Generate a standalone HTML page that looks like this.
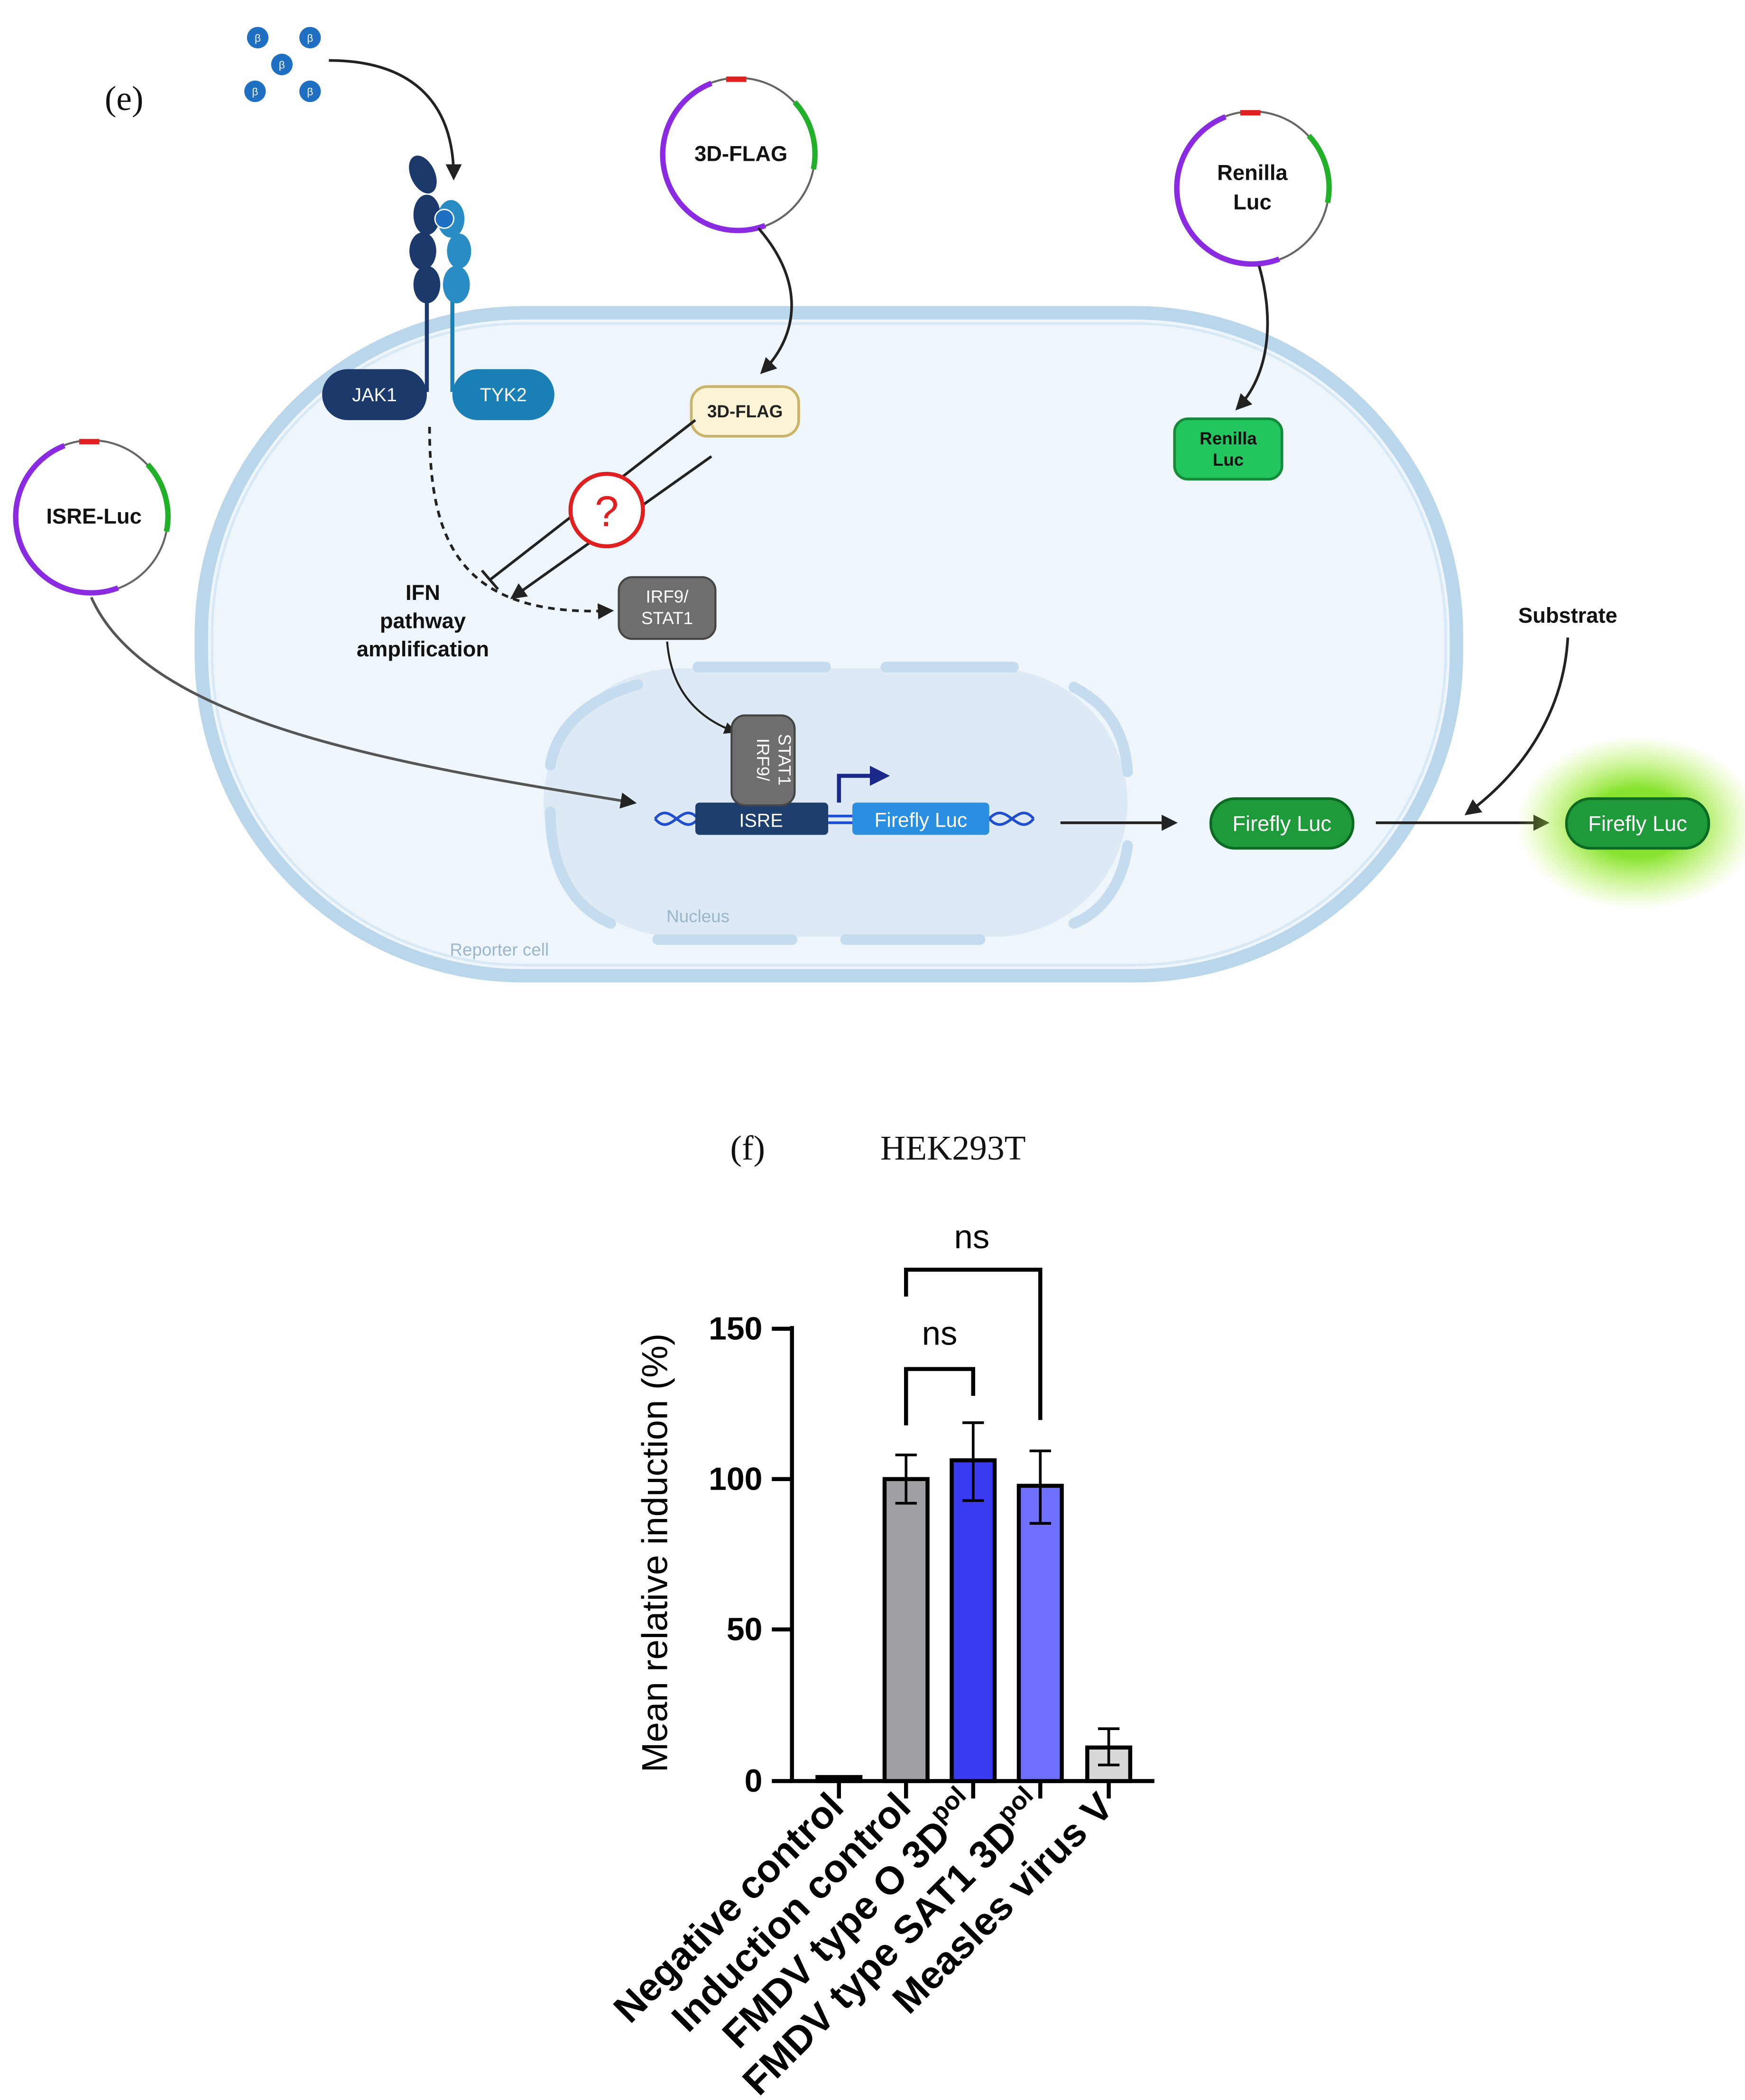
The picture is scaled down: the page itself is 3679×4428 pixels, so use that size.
<!DOCTYPE html>
<html><head><meta charset="utf-8"><style>
html,body{margin:0;padding:0;background:#fff;}
svg{display:block;}
text{font-family:"Liberation Sans",sans-serif;}
.serif{font-family:"Liberation Serif",serif;}
</style></head><body>
<svg width="3679" height="4428" viewBox="0 0 1300 1564.6" xmlns="http://www.w3.org/2000/svg">
<defs>
<marker id="ah" viewBox="0 0 10 10" refX="8" refY="5" markerWidth="6" markerHeight="6" orient="auto"><path d="M0,0 L10,5 L0,10 z" fill="#222"/></marker>
<marker id="ahb" viewBox="0 0 10 10" refX="8" refY="5" markerWidth="5" markerHeight="5" orient="auto"><path d="M0,0 L10,5 L0,10 z" fill="#1b2a8a"/></marker>
<radialGradient id="glow"><stop offset="0.4" stop-color="#7be01a" stop-opacity="0.9"/><stop offset="1" stop-color="#b6f53c" stop-opacity="0"/></radialGradient>
</defs>
<text x="78" y="82" class="serif" font-size="26" fill="#111">(e)</text>
<g fill="#1f6fc2"><circle cx="192" cy="28" r="8"/><circle cx="231" cy="28" r="8"/><circle cx="210" cy="48" r="8"/><circle cx="190" cy="68" r="8"/><circle cx="231" cy="68" r="8"/></g>
<g fill="#fff" font-size="8" text-anchor="middle"><text x="192" y="31">β</text><text x="231" y="31">β</text><text x="210" y="51">β</text><text x="190" y="71">β</text><text x="231" y="71">β</text></g>
<path d="M245,45 C300,45 338,70 338,132" fill="none" stroke="#222" stroke-width="2" marker-end="url(#ah)"/>
<rect x="150" y="233" width="935" height="494" rx="240" fill="#eef6fc" stroke="#b9d6ea" stroke-width="10"/>
<rect x="158" y="241" width="919" height="478" rx="232" fill="none" stroke="#d8e9f5" stroke-width="2"/>
<rect x="405" y="498" width="435" height="200" rx="100" fill="#dde9f5"/>
<g fill="none" stroke="#c5dbee" stroke-width="8" stroke-linecap="round">
<path d="M520,497 H615"/><path d="M660,497 H755"/><path d="M800,512 C825,525 838,545 840,575"/>
<path d="M840,630 C836,660 820,680 800,688"/><path d="M490,700 H590"/><path d="M630,700 H730"/>
<path d="M475,510 C440,520 415,540 410,570"/><path d="M410,605 C410,645 425,675 455,688"/>
</g>
<text x="520" y="687" font-size="13" fill="#9bb6cc" text-anchor="middle">Nucleus</text>
<text x="372" y="712" font-size="13" fill="#9bb6cc" text-anchor="middle">Reporter cell</text>
<line x1="318" y1="220" x2="318" y2="292" stroke="#1b3a6b" stroke-width="3"/>
<line x1="337" y1="220" x2="337" y2="292" stroke="#1a7fb5" stroke-width="3"/>
<g fill="#1b3a6b"><ellipse cx="315" cy="130" rx="9" ry="15" transform="rotate(-25 315 130)"/><ellipse cx="318" cy="160" rx="10" ry="15"/><ellipse cx="315" cy="187" rx="10" ry="14"/><ellipse cx="318" cy="212" rx="10" ry="14"/></g>
<g fill="#2a8cc4"><ellipse cx="336" cy="163" rx="10" ry="14"/><ellipse cx="342" cy="187" rx="9" ry="13"/><ellipse cx="340" cy="212" rx="10" ry="14"/></g>
<circle cx="331" cy="163" r="7" fill="#1f6fc2" stroke="#fff"/>
<rect x="240" y="275" width="78" height="38" rx="19" fill="#1b3a6b"/>
<text x="279" y="299" font-size="14" fill="#fff" text-anchor="middle">JAK1</text>
<rect x="337" y="275" width="76" height="38" rx="19" fill="#1a7fb5"/>
<text x="375" y="299" font-size="14" fill="#fff" text-anchor="middle">TYK2</text>
<g fill="none" stroke-width="4">
<circle cx="550" cy="115" r="57" stroke="#666" stroke-width="1.5"/>
<path d="M525,166 A57,57 0 0 1 530,62" stroke="#8a2be2"/><path d="M525,166 A57,57 0 0 0 570,168" stroke="#8a2be2"/>
<path d="M592,76 A57,57 0 0 1 606,126" stroke="#22b02a"/><path d="M541,59 L556,59" stroke="#e02020"/>
<circle cx="933" cy="140" r="57" stroke="#666" stroke-width="1.5"/>
<path d="M908,191 A57,57 0 0 1 913,87" stroke="#8a2be2"/><path d="M908,191 A57,57 0 0 0 953,193" stroke="#8a2be2"/>
<path d="M975,101 A57,57 0 0 1 989,151" stroke="#22b02a"/><path d="M924,84 L939,84" stroke="#e02020"/>
<circle cx="68" cy="385" r="57" stroke="#666" stroke-width="1.5"/>
<path d="M43,436 A57,57 0 0 1 48,332" stroke="#8a2be2"/><path d="M43,436 A57,57 0 0 0 88,438" stroke="#8a2be2"/>
<path d="M110,346 A57,57 0 0 1 124,396" stroke="#22b02a"/><path d="M59,329 L74,329" stroke="#e02020"/>
</g>
<text x="552" y="120" font-size="16" font-weight="bold" text-anchor="middle" fill="#111">3D-FLAG</text>
<text x="933" y="134" font-size="16" font-weight="bold" text-anchor="middle" fill="#111">Renilla</text>
<text x="933" y="156" font-size="16" font-weight="bold" text-anchor="middle" fill="#111">Luc</text>
<text x="70" y="390" font-size="16" font-weight="bold" text-anchor="middle" fill="#111">ISRE-Luc</text>
<path d="M565,170 C600,210 595,250 568,277" fill="none" stroke="#222" stroke-width="2" marker-end="url(#ah)"/>
<path d="M938,198 C950,240 945,280 922,304" fill="none" stroke="#222" stroke-width="2" marker-end="url(#ah)"/>
<path d="M68,445 C110,540 300,570 472,598" fill="none" stroke="#555" stroke-width="2" marker-end="url(#ah)"/>
<rect x="515" y="288" width="80" height="37" rx="12" fill="#fbf3d5" stroke="#c9b46a" stroke-width="2"/>
<text x="555" y="311" font-size="13" font-weight="bold" text-anchor="middle" fill="#222">3D-FLAG</text>
<rect x="875" y="312" width="80" height="45" rx="10" fill="#22c55e" stroke="#158a3a" stroke-width="2"/>
<text x="915" y="331" font-size="13" font-weight="bold" text-anchor="middle" fill="#111">Renilla</text>
<text x="915" y="347" font-size="13" font-weight="bold" text-anchor="middle" fill="#111">Luc</text>
<line x1="518" y1="313" x2="365" y2="432" stroke="#222" stroke-width="2"/>
<line x1="359" y1="425" x2="371" y2="439" stroke="#222" stroke-width="2"/>
<line x1="530" y1="340" x2="382" y2="445" stroke="#222" stroke-width="2" marker-end="url(#ah)"/>
<circle cx="452" cy="380" r="27" fill="#fff" stroke="#e02020" stroke-width="3"/>
<text x="452" y="392" font-size="32" text-anchor="middle" fill="#e02020">?</text>
<text x="315" y="447" font-size="16" font-weight="bold" text-anchor="middle" fill="#111">IFN</text>
<text x="315" y="468" font-size="16" font-weight="bold" text-anchor="middle" fill="#111">pathway</text>
<text x="315" y="489" font-size="16" font-weight="bold" text-anchor="middle" fill="#111">amplification</text>
<path d="M320,318 C320,400 340,460 455,455" fill="none" stroke="#222" stroke-width="2" stroke-dasharray="5,4" marker-end="url(#ah)"/>
<rect x="461" y="430" width="72" height="46" rx="10" fill="#6e6e6e" stroke="#444" stroke-width="1.5"/>
<text x="497" y="449" font-size="13" text-anchor="middle" fill="#fff">IRF9/</text>
<text x="497" y="465" font-size="13" text-anchor="middle" fill="#fff">STAT1</text>
<path d="M497,478 C500,515 520,535 547,545" fill="none" stroke="#222" stroke-width="1.5" marker-end="url(#ah)"/>
<g fill="none" stroke="#1f4fd0" stroke-width="2">
<path d="M488,610 C500,595 508,625 520,610"/><path d="M488,610 C500,625 508,595 520,610"/>
<path d="M737,610 C750,595 758,625 770,610"/><path d="M737,610 C750,625 758,595 770,610"/>
<line x1="617" y1="608" x2="637" y2="608"/><line x1="617" y1="613" x2="637" y2="613"/>
</g>
<rect x="518" y="598" width="99" height="24" rx="3" fill="#1e3f6e"/>
<text x="567" y="616" font-size="14" text-anchor="middle" fill="#fff">ISRE</text>
<rect x="635" y="598" width="102" height="24" rx="3" fill="#2a8fe0"/>
<text x="686" y="616" font-size="15" text-anchor="middle" fill="#fff">Firefly Luc</text>
<rect x="545" y="533" width="47" height="67" rx="10" fill="#6e6e6e" stroke="#444" stroke-width="1.5"/>
<text transform="translate(564,566) rotate(90)" font-size="13" text-anchor="middle" fill="#fff">IRF9/</text>
<text transform="translate(580,566) rotate(90)" font-size="13" text-anchor="middle" fill="#fff">STAT1</text>
<path d="M625,598 V578 H660" fill="none" stroke="#1b2a8a" stroke-width="3" marker-end="url(#ahb)"/>
<line x1="790" y1="613" x2="875" y2="613" stroke="#222" stroke-width="2" marker-end="url(#ah)"/>
<rect x="902" y="595" width="106" height="37" rx="18" fill="#1e9a3a" stroke="#0d6a22" stroke-width="2"/>
<text x="955" y="619" font-size="16" text-anchor="middle" fill="#fff">Firefly Luc</text>
<line x1="1025" y1="613" x2="1152" y2="613" stroke="#222" stroke-width="2" marker-end="url(#ah)"/>
<ellipse cx="1220" cy="613" rx="90" ry="65" fill="url(#glow)"/>
<rect x="1167" y="595" width="106" height="37" rx="18" fill="#1e9a3a" stroke="#0d6a22" stroke-width="2"/>
<text x="1220" y="619" font-size="16" text-anchor="middle" fill="#fff">Firefly Luc</text>
<text x="1168" y="464" font-size="16" font-weight="bold" text-anchor="middle" fill="#111">Substrate</text>
<path d="M1168,475 C1165,530 1135,575 1093,606" fill="none" stroke="#222" stroke-width="2" marker-end="url(#ah)"/>
<text x="557" y="864" class="serif" font-size="26" text-anchor="middle" fill="#111">(f)</text>
<text x="710" y="864" class="serif" font-size="26" text-anchor="middle" fill="#111">HEK293T</text>
<g stroke="#000" stroke-width="3" fill="none">
<line x1="590" y1="988" x2="590" y2="1327"/><line x1="588" y1="1327" x2="860" y2="1327"/>
<line x1="575" y1="990" x2="590" y2="990"/><line x1="575" y1="1102" x2="590" y2="1102"/><line x1="575" y1="1214" x2="590" y2="1214"/><line x1="575" y1="1327" x2="590" y2="1327"/>
<line x1="625" y1="1327" x2="625" y2="1340"/><line x1="675" y1="1327" x2="675" y2="1340"/><line x1="725" y1="1327" x2="725" y2="1340"/><line x1="775" y1="1327" x2="775" y2="1340"/><line x1="826" y1="1327" x2="826" y2="1340"/>
</g>
<g font-size="24" font-weight="bold" text-anchor="end" fill="#000">
<text x="568" y="998">150</text><text x="568" y="1110">100</text><text x="568" y="1222">50</text><text x="568" y="1335">0</text>
</g>
<text transform="translate(497,1157) rotate(-90)" font-size="27" text-anchor="middle" fill="#000">Mean relative induction (%)</text>
<g stroke="#000" stroke-width="3">
<rect x="609" y="1324" width="32" height="3" fill="#000"/>
<rect x="659" y="1102" width="32" height="225" fill="#a0a0a4"/>
<rect x="709" y="1088" width="32" height="239" fill="#3a3af0"/>
<rect x="759" y="1107" width="32" height="220" fill="#7070ff"/>
<rect x="810" y="1302" width="32" height="25" fill="#d8d8d8"/>
</g>
<g stroke="#000" stroke-width="2" fill="none">
<path d="M675,1084 V1120 M667,1084 H683 M667,1120 H683"/>
<path d="M725,1060 V1118 M717,1060 H733 M717,1118 H733"/>
<path d="M775,1081 V1135 M767,1081 H783 M767,1135 H783"/>
<path d="M826,1288 V1315 M818,1288 H834 M818,1315 H834"/>
</g>
<g stroke="#000" stroke-width="3" fill="none">
<path d="M675,1062 V1020 H725 V1040"/>
<path d="M675,966 V946 H775 V1058"/>
</g>
<text x="700" y="1002" font-size="25" text-anchor="middle" fill="#000">ns</text>
<text x="724" y="930" font-size="25" text-anchor="middle" fill="#000">ns</text>
<g font-size="29" font-weight="bold" text-anchor="end" fill="#000">
<text transform="translate(630,1348) rotate(-45)">Negative control</text>
<text transform="translate(680,1348) rotate(-45)">Induction control</text>
<text transform="translate(730,1348) rotate(-45)">FMDV type O 3D<tspan font-size="19" dy="-13">pol</tspan></text>
<text transform="translate(780,1348) rotate(-45)">FMDV type SAT1 3D<tspan font-size="19" dy="-13">pol</tspan></text>
<text transform="translate(831,1348) rotate(-45)">Measles virus V</text>
</g>
</svg>
</body></html>
